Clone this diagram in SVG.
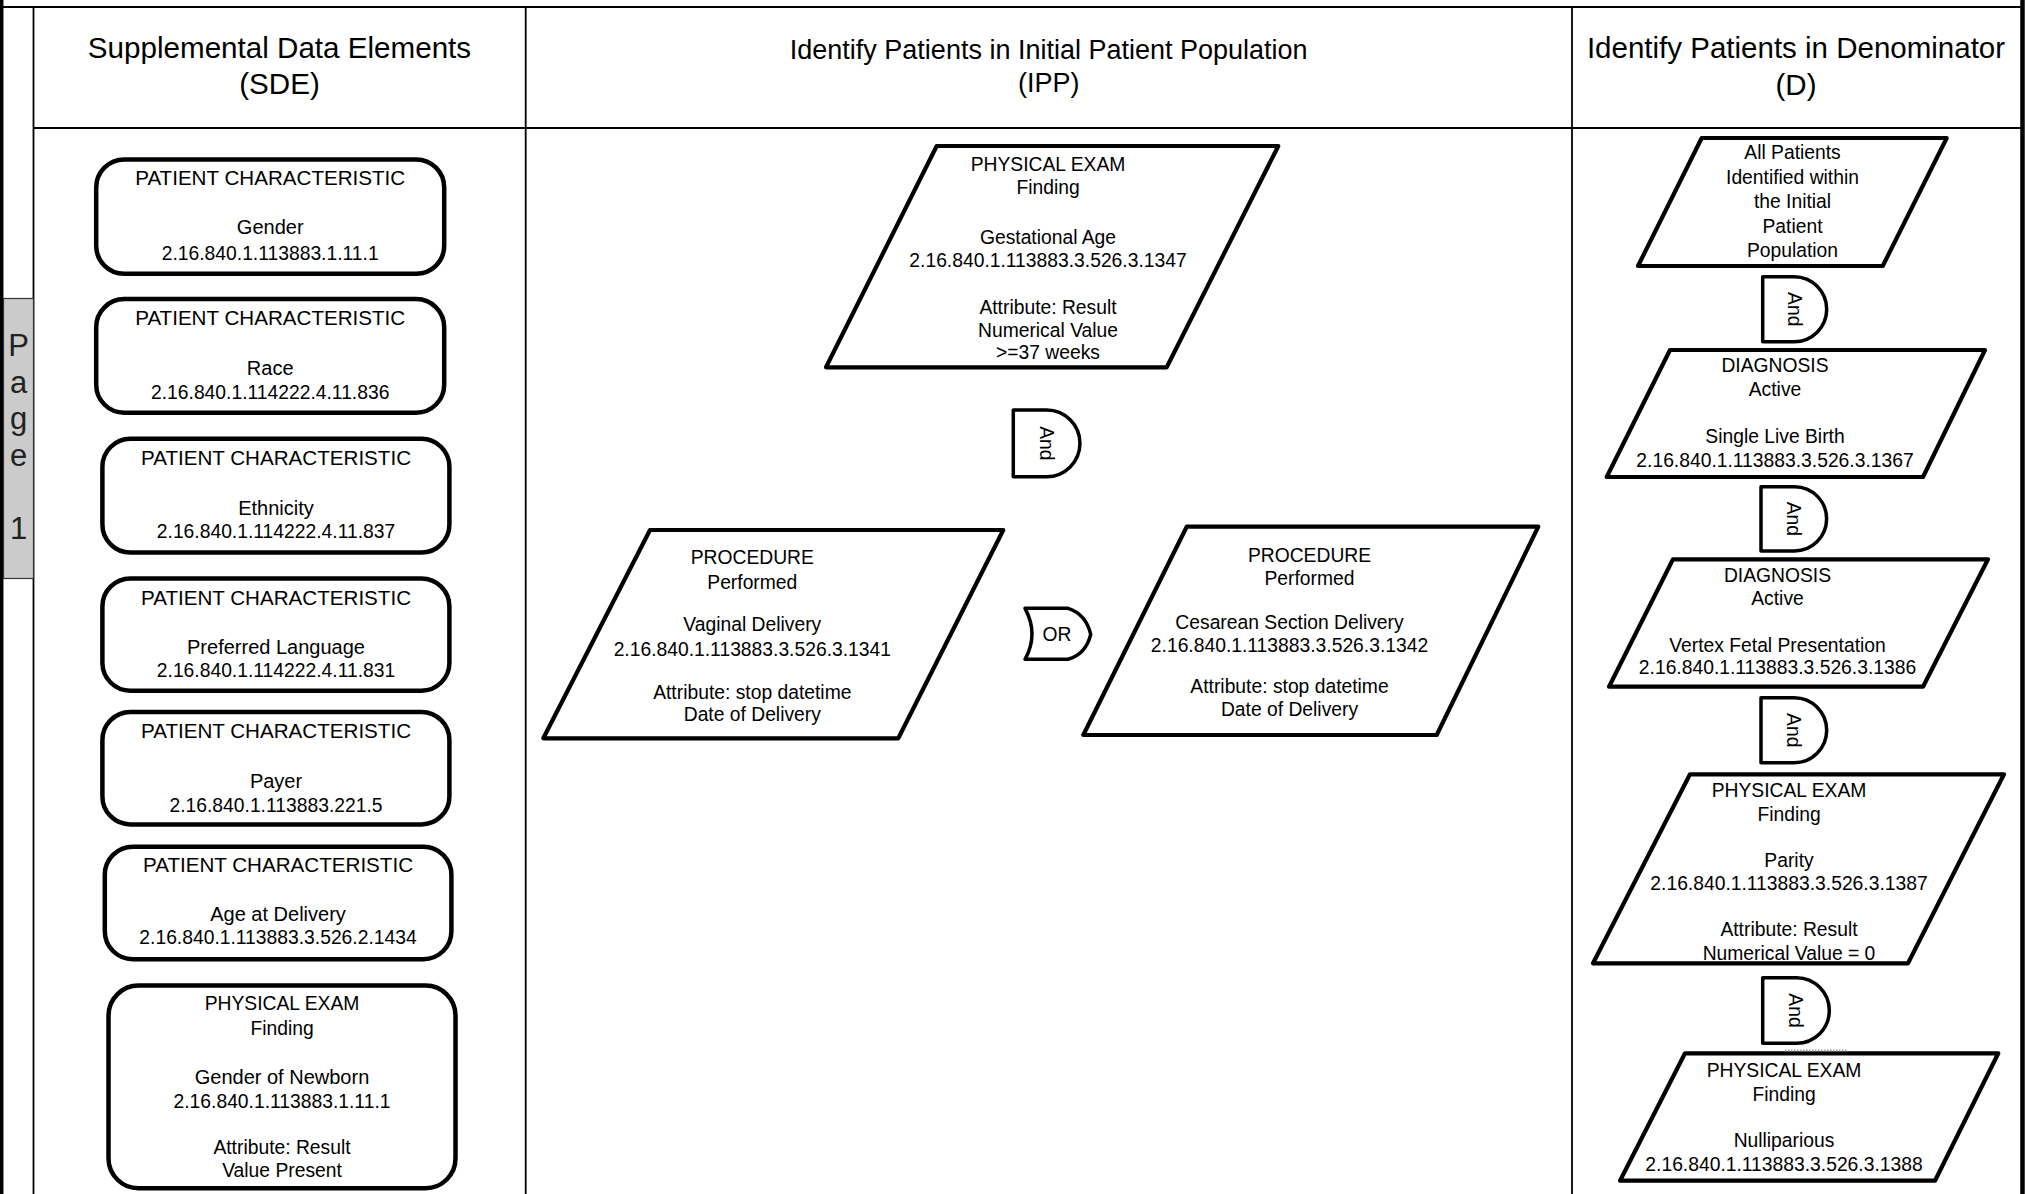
<svg xmlns="http://www.w3.org/2000/svg" width="2025" height="1194" viewBox="0 0 2025 1194">
<style>
text{font-family:"Liberation Sans",Arial,sans-serif;fill:#000;}
.t{font-size:19.3px;text-anchor:middle;}
.pc{font-size:20.6px;}
.nm{font-size:20px;}
.h{font-size:29.6px;text-anchor:middle;}
.pg{font-size:31px;text-anchor:middle;fill:#222;}
.frame{stroke:#000;stroke-width:1.8;fill:none;}
.box{fill:#fff;stroke:#000;stroke-width:4.5;}
.para{fill:#fff;stroke:#000;stroke-width:4.2;stroke-linejoin:round;}
.gate{fill:#fff;stroke:#000;stroke-width:3.5;stroke-linejoin:round;}
</style>
<rect x="0" y="0" width="2025" height="1194" fill="#fff"/>
<g id="frame">
<line class="frame" x1="0" y1="7" x2="2022" y2="7"/>
<line x1="1.7" y1="0" x2="1.7" y2="1194" stroke="#000" stroke-width="3.5"/>
<line x1="2022.5" y1="0" x2="2022.5" y2="1194" stroke="#000" stroke-width="4.5"/>
<line class="frame" x1="33.5" y1="7" x2="33.5" y2="1194"/>
<line class="frame" x1="525.7" y1="7" x2="525.7" y2="1194"/>
<line class="frame" x1="1572" y1="7" x2="1572" y2="1194"/>
<line class="frame" x1="33.5" y1="128" x2="2021" y2="128"/>
</g>
<g id="page-label">
<rect x="3.5" y="298.5" width="30" height="280" fill="#cbcbcb" stroke="#333" stroke-width="1.2"/>
<text class="pg" x="18.5" y="356">P</text>
<text class="pg" x="18.5" y="392.5">a</text>
<text class="pg" x="18.5" y="429">g</text>
<text class="pg" x="18.5" y="465.5">e</text>
<text class="pg" x="18.5" y="538.5">1</text>
</g>
<g id="header-sde">
<text class="h" x="279.5" y="57.5">Supplemental Data Elements</text>
<text class="h" x="279.5" y="94">(SDE)</text>
</g>
<g id="header-ipp">
<text class="h" x="1048.7" y="59.3" style="font-size:27px">Identify Patients in Initial Patient Population</text>
<text class="h" x="1048.7" y="92" style="font-size:27px">(IPP)</text>
</g>
<g id="header-d">
<text class="h" x="1796" y="58.3" style="font-size:29.5px">Identify Patients in Denominator</text>
<text class="h" x="1796" y="95" style="font-size:29.5px">(D)</text>
</g>
<g id="sde-gender">
<rect class="box" x="96.2" y="159.4" width="348" height="114.4" rx="28"/>
<text class="t pc" x="270.2" y="184.8">PATIENT CHARACTERISTIC</text>
<text class="t nm" x="270.2" y="234.2">Gender</text>
<text class="t" x="270.2" y="259.5">2.16.840.1.113883.1.11.1</text>
</g>
<g id="sde-race">
<rect class="box" x="96.2" y="299.1" width="348" height="113.6" rx="28"/>
<text class="t pc" x="270.2" y="325.3">PATIENT CHARACTERISTIC</text>
<text class="t nm" x="270.2" y="375">Race</text>
<text class="t" x="270.2" y="399.2">2.16.840.1.114222.4.11.836</text>
</g>
<g id="sde-ethnicity">
<rect class="box" x="102.4" y="438.8" width="347" height="113.7" rx="28"/>
<text class="t pc" x="276" y="465">PATIENT CHARACTERISTIC</text>
<text class="t nm" x="276" y="514.7">Ethnicity</text>
<text class="t" x="276" y="537.7">2.16.840.1.114222.4.11.837</text>
</g>
<g id="sde-language">
<rect class="box" x="102.4" y="578.5" width="347" height="112.2" rx="28"/>
<text class="t pc" x="276" y="604.7">PATIENT CHARACTERISTIC</text>
<text class="t nm" x="276" y="653.6">Preferred Language</text>
<text class="t" x="276" y="676.7">2.16.840.1.114222.4.11.831</text>
</g>
<g id="sde-payer">
<rect class="box" x="102.4" y="711.9" width="347" height="112.5" rx="28"/>
<text class="t pc" x="276" y="737.5">PATIENT CHARACTERISTIC</text>
<text class="t nm" x="276" y="788.4">Payer</text>
<text class="t" x="276" y="811.5">2.16.840.1.113883.221.5</text>
</g>
<g id="sde-age">
<rect class="box" x="104.8" y="846.7" width="346.6" height="112.5" rx="28"/>
<text class="t pc" x="278" y="872">PATIENT CHARACTERISTIC</text>
<text class="t nm" x="278" y="921.3">Age at Delivery</text>
<text class="t" x="278" y="944.4">2.16.840.1.113883.3.526.2.1434</text>
</g>
<g id="sde-newborn">
<rect class="box" x="108.5" y="985.5" width="347" height="202.8" rx="30"/>
<text class="t" x="282" y="1009.9">PHYSICAL EXAM</text>
<text class="t" x="282" y="1034.9">Finding</text>
<text class="t nm" x="282" y="1084.2">Gender of Newborn</text>
<text class="t" x="282" y="1108.1">2.16.840.1.113883.1.11.1</text>
<text class="t" x="282" y="1154.3">Attribute: Result</text>
<text class="t" x="282" y="1177.4">Value Present</text>
</g>
<g id="ipp-gestational-age">
<polygon class="para" points="936.7,146 1278.3,146 1166.7,367.3 826,367.3"/>
<text class="t" x="1048" y="170.7">PHYSICAL EXAM</text>
<text class="t" x="1048" y="194">Finding</text>
<text class="t" x="1048" y="244">Gestational Age</text>
<text class="t" x="1048" y="266.7">2.16.840.1.113883.3.526.3.1347</text>
<text class="t" x="1048" y="314.3">Attribute: Result</text>
<text class="t" x="1048" y="336.7">Numerical Value</text>
<text class="t" x="1048" y="359.3">&gt;=37 weeks</text>
</g>
<g id="ipp-and">
<path class="gate" d="M1013.3,410 H1046.6 A33.35,33.35 0 0 1 1046.6,476.7 H1013.3 Z"/>
<text class="t" transform="translate(1046.5,443.3) rotate(90)" x="0" y="6.9">And</text>
</g>
<g id="ipp-vaginal">
<polygon class="para" points="650,530 1003.3,530 898.3,738.3 543.3,738.3"/>
<text class="t" x="752.3" y="564.3">PROCEDURE</text>
<text class="t" x="752.3" y="589.3">Performed</text>
<text class="t" x="752.3" y="631">Vaginal Delivery</text>
<text class="t" x="752.3" y="656">2.16.840.1.113883.3.526.3.1341</text>
<text class="t" x="752.3" y="699">Attribute: stop datetime</text>
<text class="t" x="752.3" y="720.7">Date of Delivery</text>
</g>
<g id="ipp-or">
<path class="gate" d="M1025,608.3 L1068,608.3 Q1086,614 1090.7,634.3 Q1086,654 1068,659.3 L1025,659.3 Q1039,634 1025,608.3 Z"/>
<text class="t" x="1057" y="640.7">OR</text>
</g>
<g id="ipp-cesarean">
<polygon class="para" points="1186.7,526.7 1538.3,526.7 1436.7,735 1083.3,735"/>
<text class="t" x="1309.5" y="561.7">PROCEDURE</text>
<text class="t" x="1309.5" y="585">Performed</text>
<text class="t" x="1289.5" y="629.3">Cesarean Section Delivery</text>
<text class="t" x="1289.5" y="651.7">2.16.840.1.113883.3.526.3.1342</text>
<text class="t" x="1289.5" y="693.3">Attribute: stop datetime</text>
<text class="t" x="1289.5" y="716">Date of Delivery</text>
</g>
<g id="d-all-patients">
<polygon class="para" points="1701.7,138 1946.7,138 1882.7,266 1638,266"/>
<text class="t" x="1792.5" y="159">All Patients</text>
<text class="t" x="1792.5" y="183.5">Identified within</text>
<text class="t" x="1792.5" y="208">the Initial</text>
<text class="t" x="1792.5" y="232.5">Patient</text>
<text class="t" x="1792.5" y="257">Population</text>
</g>
<g id="d-and-1">
<path class="gate" d="M1762.7,276.7 H1794.2 A32.5,32.5 0 0 1 1794.2,341.7 H1762.7 Z"/>
<text class="t" transform="translate(1795,309.2) rotate(90)" x="0" y="6.9">And</text>
</g>
<g id="d-single-live-birth">
<polygon class="para" points="1670,350 1985,350 1923,477 1606.7,477"/>
<text class="t" x="1775" y="371.7">DIAGNOSIS</text>
<text class="t" x="1775" y="395.5">Active</text>
<text class="t" x="1775" y="442.7">Single Live Birth</text>
<text class="t" x="1775" y="466.5">2.16.840.1.113883.3.526.3.1367</text>
</g>
<g id="d-and-2">
<path class="gate" d="M1761,486.7 H1794.5 A32.15,32.15 0 0 1 1794.5,551 H1761 Z"/>
<text class="t" transform="translate(1794,518.8) rotate(90)" x="0" y="6.9">And</text>
</g>
<g id="d-vertex">
<polygon class="para" points="1673,559.3 1988,559.3 1923,686.7 1609,686.7"/>
<text class="t" x="1777.5" y="582.3">DIAGNOSIS</text>
<text class="t" x="1777.5" y="605">Active</text>
<text class="t" x="1777.5" y="651.7">Vertex Fetal Presentation</text>
<text class="t" x="1777.5" y="674.3">2.16.840.1.113883.3.526.3.1386</text>
</g>
<g id="d-and-3">
<path class="gate" d="M1761,697.7 H1794.2 A32.5,32.5 0 0 1 1794.2,762.7 H1761 Z"/>
<text class="t" transform="translate(1794,730.2) rotate(90)" x="0" y="6.9">And</text>
</g>
<g id="d-parity">
<polygon class="para" points="1690,774.3 2004,774.3 1908,963.3 1593,963.3"/>
<text class="t" x="1789" y="797">PHYSICAL EXAM</text>
<text class="t" x="1789" y="821">Finding</text>
<text class="t" x="1789" y="866.7">Parity</text>
<text class="t" x="1789" y="890">2.16.840.1.113883.3.526.3.1387</text>
<text class="t" x="1789" y="936">Attribute: Result</text>
<text class="t" x="1789" y="960">Numerical Value = 0</text>
</g>
<g id="d-and-4">
<path class="gate" d="M1762.7,977.7 H1796.5 A32.8,32.8 0 0 1 1796.5,1043.3 H1762.7 Z"/>
<text class="t" transform="translate(1796,1010.5) rotate(90)" x="0" y="6.9">And</text>
</g>
<g id="d-nulliparious">
<polygon class="para" points="1685,1053.3 1998.3,1053.3 1935,1180.7 1620,1180.7"/>
<text class="t" x="1784" y="1076.7">PHYSICAL EXAM</text>
<text class="t" x="1784" y="1100.7">Finding</text>
<text class="t" x="1784" y="1147.3">Nulliparious</text>
<text class="t" x="1784" y="1170.7">2.16.840.1.113883.3.526.3.1388</text>
</g>
<g id="connectors">
<line x1="1785" y1="1050.5" x2="1848" y2="1050.5" stroke="#999" stroke-width="2" stroke-dasharray="1.5,1.5"/>
</g>
</svg>
